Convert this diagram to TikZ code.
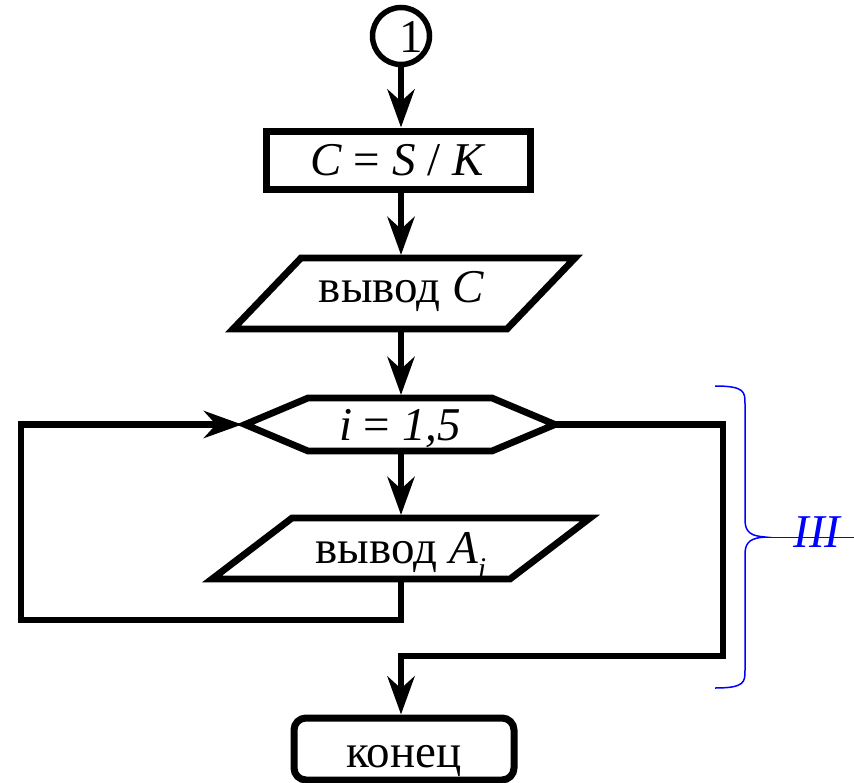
\documentclass[tikz,border=0pt]{standalone}
\usepackage{fontspec}
\setmainfont{Liberation Serif}
\usetikzlibrary{arrows.meta,calc}
\begin{document}
\begin{tikzpicture}[x=1pt,y=-1pt,
  txt/.style={font=\fontsize{47}{56}\selectfont},
  box/.style={draw, line width=7pt, line join=miter, inner sep=0pt, txt},
  geo/.style={inner sep=0pt, outer sep=0pt, rectangle},
  lbl/.style={inner sep=0pt, anchor=base, txt},
  ln/.style={line width=6.8pt, line join=miter},
  arr/.style={line width=6.5pt, line join=miter, -{Stealth[length=38pt,width=27pt,inset=12pt]}},
  brace/.style={draw=blue, line width=1.5pt},
]
\useasboundingbox (0,0) rectangle (854,782);

% start connector
\node[draw, circle, line width=5.5pt, minimum size=57pt, inner sep=0pt] (c) at (401,36) {};
\node[lbl] (c1) at (411,52) {1};

% process
\node[box, minimum width=264pt, minimum height=58pt, text height=30pt, text depth=0pt] (b1) at (398,160) {\textit{C} = \textit{S} / \textit{K}};

% output C
\node[geo, minimum width=342pt, minimum height=71pt] (o1) at (404,293.5) {};
\draw[ln] ($(o1.north west)+(68,0)$) -- (o1.north east) -- ($(o1.south east)+(-68,0)$) -- (o1.south west) -- cycle;
\node[lbl] (o1t) at (401.5,302) {вывод \textit{C}};

% loop
\node[geo, minimum width=310pt, minimum height=53pt] (lp) at (400,424.5) {};
\draw[ln] (lp.west) -- ($(lp.north west)+(63,0)$) -- ($(lp.north east)+(-63,0)$) -- (lp.east) -- ($(lp.south east)+(-63,0)$) -- ($(lp.south west)+(63,0)$) -- cycle;
\node[lbl] (lpt) at (400,440) {\textit{i} = \textit{1,5}};

% output A_i
\node[geo, minimum width=378pt, minimum height=61pt] (o2) at (401,548.5) {};
\draw[ln] ($(o2.north west)+(80,0)$) -- (o2.north east) -- ($(o2.south east)+(-80,0)$) -- (o2.south west) -- cycle;
\node[lbl] (o2t) at (401,563) {вывод \textit{A}\raisebox{-15pt}{\fontsize{30}{30}\selectfont\textit{i}}};

% end
\node[box, rounded corners=12pt, minimum width=220pt, minimum height=62pt, text height=36pt, text depth=0pt] (e) at (404,749) {конец};

% connectors
\draw[arr] (c.south) -- (c.south |- b1.north);
\draw[arr, shorten >=3pt] (c.south |- b1.south) -- (c.south |- o1.north);
\draw[arr, shorten >=3pt] (c.south |- o1.south) -- (c.south |- lp.north);
\draw[arr, shorten >=3pt] (c.south |- lp.south) -- (c.south |- o2.north);
\coordinate (lb) at (21,620);
\draw[arr, shorten >=3pt] (c.south |- o2.south) |- (lb) |- (lp.west);
\coordinate (rb) at (723,656);
\draw[arr] (lp.east) -| (rb) -| (c.south |- e.north);

% brace
\coordinate (bt) at (765,537);
\coordinate (be) at (854,537);
\draw[brace] (715,386) .. controls (745,386) and (745,392) .. (745,404) -- (745,520)
  .. controls (745,533) and (752,536) .. (bt)
  .. controls (752,538) and (745,541) .. (745,554) -- (745,670)
  .. controls (745,682) and (745,688) .. (715,688);
\draw[draw=blue, line width=1pt] (bt) -- (be);
\node[lbl, text=blue] (iii) at (818,547) {\textit{III}};
\end{tikzpicture}
\end{document}
